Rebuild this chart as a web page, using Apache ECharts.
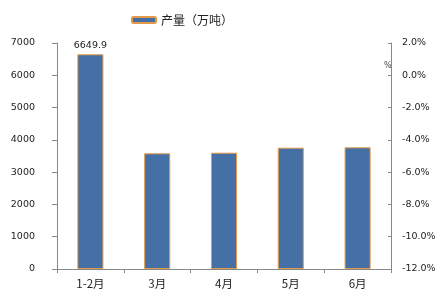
<!DOCTYPE html>
<html><head><meta charset="utf-8">
<script src="https://cdn.jsdelivr.net/npm/echarts@6/dist/echarts.min.js"></script>
<style>html,body{margin:0;padding:0;background:#fff}#c{width:447px;height:300px}</style>
</head><body><div id="c"></div>
<script>
const categories = ['1-2月', '3月', '4月', '5月', '6月'];
const output = [6649.9, 3583, 3602, 3757, 3769];
const leftTicks = [0, 7000, 1000];
const rightTicks = [-12, 2, 2];
const seriesName = '产量（万吨）';

const chart = echarts.init(document.getElementById('c'), null, {renderer: 'canvas'});
const numFont = '"DejaVu Sans", Verdana, sans-serif';
const cjkFont = '"Noto Sans CJK SC", sans-serif';
chart.setOption({
  animation: false,
  backgroundColor: '#fff',
  grid: {left: 57, right: 56, top: 43, bottom: 31},
  legend: {
    data: [seriesName], left: 126, top: 9,
    itemWidth: 24, itemHeight: 6, itemGap: 4,
    textStyle: {fontSize: 12, color: '#222', fontFamily: cjkFont}
  },
  xAxis: {
    type: 'category', data: categories,
    axisLine: {lineStyle: {color: '#888'}},
    axisTick: {show: true, length: 4, lineStyle: {color: '#888'}},
    axisLabel: {fontSize: 11.5, color: '#222', fontFamily: cjkFont, margin: 9}
  },
  yAxis: [{
    type: 'value', min: leftTicks[0], max: leftTicks[1], interval: leftTicks[2],
    axisLine: {show: true, lineStyle: {color: '#888'}},
    axisTick: {show: true, length: 5, lineStyle: {color: '#888'}},
    splitLine: {show: false},
    axisLabel: {fontSize: 9.5, color: '#222', fontFamily: numFont, margin: 22,
      formatter: v => String(v)}
  }, {
    type: 'value', min: rightTicks[0], max: rightTicks[1], interval: rightTicks[2],
    position: 'right',
    axisLine: {show: true, lineStyle: {color: '#888'}},
    axisTick: {show: true, inside: true, length: 3, lineStyle: {color: '#888'}},
    splitLine: {show: false},
    axisLabel: {fontSize: 9.5, color: '#222', fontFamily: numFont, margin: 11,
      formatter: v => v.toFixed(1) + '%'}
  }],
  graphic: [{type: 'text', left: 384, top: 62,
    style: {text: '%', fontSize: 8, fill: '#444', fontFamily: numFont}}],
  series: [{
    name: seriesName, type: 'bar', data: output, barWidth: '39%',
    itemStyle: {color: '#4470A6', borderColor: '#E39A48', borderWidth: 1},
    label: {show: true, position: 'top', distance: 4, fontSize: 9.5, color: '#222',
      fontFamily: numFont,
      formatter: p => p.dataIndex === 0 ? p.value.toFixed(1) : ''}
  }, {
    type: 'line', yAxisIndex: 1, data: [], silent: true
  }]
});
</script></body></html>
